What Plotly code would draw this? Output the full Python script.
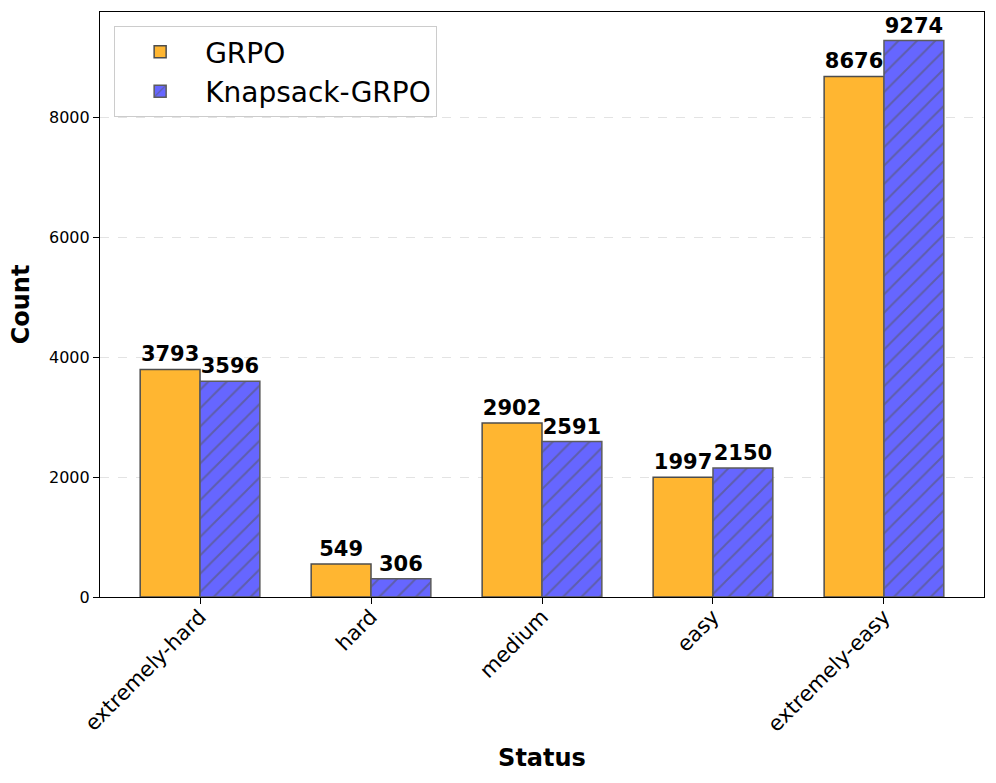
import plotly.graph_objects as go

categories = ["extremely-hard", "hard", "medium", "easy", "extremely-easy"]
grpo = [3793, 549, 2902, 1997, 8676]
knapsack = [3596, 306, 2591, 2150, 9274]
series_names = ["GRPO", "Knapsack-GRPO"]
y_ticks = [0, 2000, 4000, 6000, 8000]

FONT = "DejaVu Sans"
x = list(range(len(categories)))

fig = go.Figure()
fig.add_trace(go.Bar(
    x=x, y=grpo, name=series_names[0],
    marker=dict(color="#FFB631", line=dict(color="#4d4d4d", width=1.5)),
    text=grpo, texttemplate="<b>%{text}</b>", textposition="outside",
    textfont=dict(family=FONT, size=21, color="black"), cliponaxis=False,
))
fig.add_trace(go.Bar(
    x=x, y=knapsack, name=series_names[1],
    marker=dict(color="#6666FF", line=dict(color="#5c5c5c", width=1.5),
                pattern=dict(shape="/", fgcolor="#555555", bgcolor="#6666FF",
                             size=13, solidity=0.15)),
    text=knapsack, texttemplate="<b>%{text}</b>", textposition="outside",
    textfont=dict(family=FONT, size=21, color="black"), cliponaxis=False,
))

fig.update_layout(
    width=996, height=783,
    margin=dict(l=100, r=12, t=12, b=186, autoexpand=False),
    paper_bgcolor="white", plot_bgcolor="white",
    barmode="group", bargap=0.3, bargroupgap=0,
    font=dict(family=FONT, color="black"),
    showlegend=True,
    legend=dict(x=0.016, y=0.976, xanchor="left", yanchor="top",
                bgcolor="rgba(255,255,255,0.8)", bordercolor="#cccccc", borderwidth=1,
                font=dict(family=FONT, size=28), itemwidth=80,
                tracegroupgap=4),
    xaxis=dict(
        tickmode="array", tickvals=x, ticktext=categories, tickangle=-45,
        range=[-0.585, 4.585], showline=True, linecolor="black", linewidth=1.2,
        mirror=True, ticks="outside", ticklen=6, tickcolor="black",
        tickfont=dict(family=FONT, size=21), showgrid=False, automargin=False,
        ticklabelstandoff=-8,
        title=dict(text="<b>Status</b>", font=dict(family=FONT, size=24), standoff=13),
    ),
    yaxis=dict(
        range=[0, 9750], tickvals=y_ticks, showline=True, linecolor="black", linewidth=1.2,
        mirror=True, ticks="outside", ticklen=6, tickcolor="black",
        tickfont=dict(family=FONT, size=16), showgrid=True, gridcolor="#e3e3e3",
        griddash="dash", gridwidth=1, zeroline=False, automargin=False,
        title=dict(text="<b>Count</b>", font=dict(family=FONT, size=24), standoff=12),
    ),
)

fig.write_html("out.html", post_script="document.body.style.margin='0';",
               config={"displayModeBar": False})
